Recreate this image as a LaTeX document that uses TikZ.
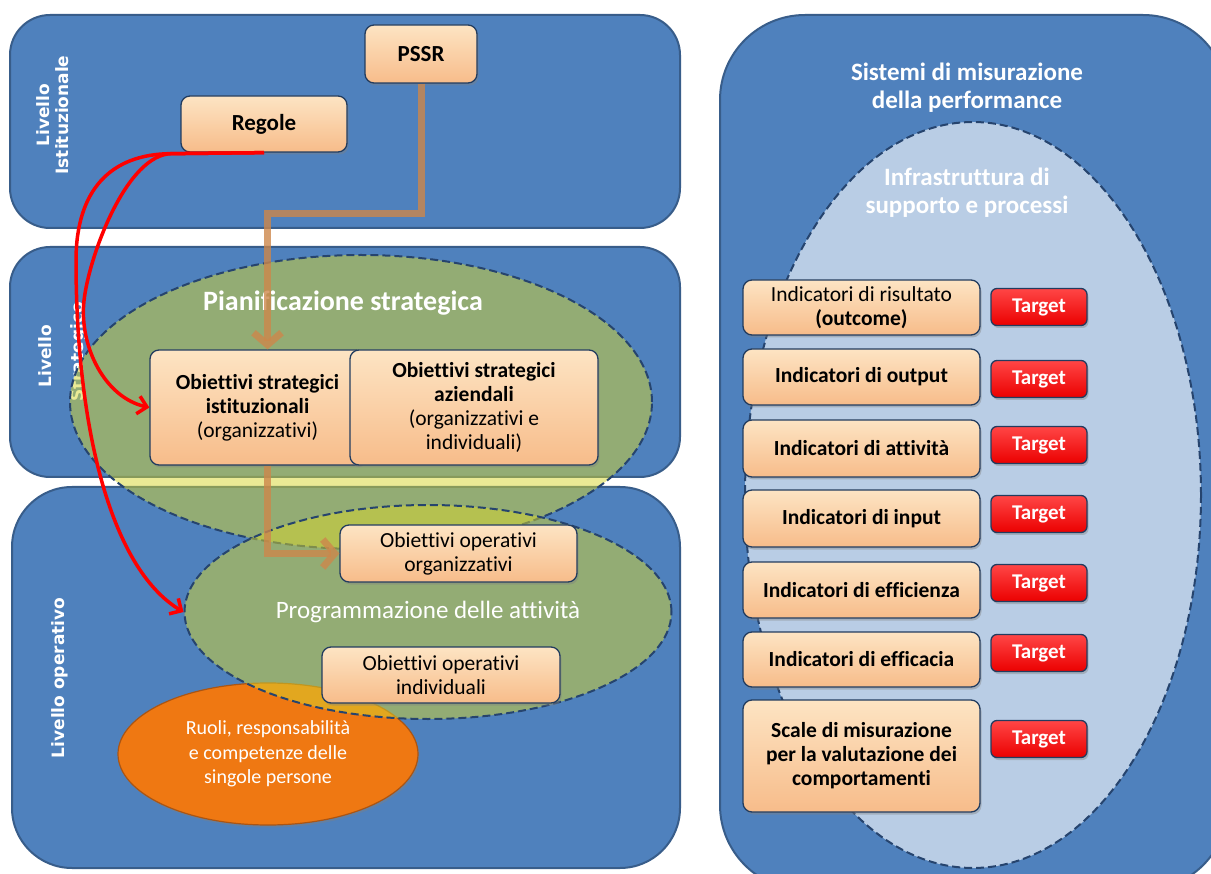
\documentclass[tikz,border=0pt]{standalone}
\usepackage{fontspec}
\setmainfont{Carlito}[Ligatures=NoCommon]
\newfontfamily\labfont{DejaVu Sans}
\usetikzlibrary{arrows.meta,shadows,shapes.geometric}
\definecolor{panelblue}{RGB}{79,129,189}
\definecolor{panelborder}{RGB}{56,93,138}
\definecolor{lightblue}{RGB}{185,205,229}
\definecolor{dashblue}{RGB}{38,68,110}
\definecolor{peachtop}{RGB}{253,228,195}
\definecolor{peachbot}{RGB}{247,188,138}
\definecolor{boxborder}{RGB}{34,60,95}
\definecolor{targettop}{RGB}{255,70,70}
\definecolor{targetred}{RGB}{235,0,0}
\definecolor{orangefill}{RGB}{239,120,18}
\definecolor{orangeborder}{RGB}{170,85,20}
\definecolor{arrowbrown}{RGB}{205,135,75}
\definecolor{yellowfill}{RGB}{215,215,45}
\begin{document}
\begin{tikzpicture}[x=1pt,y=-1pt,
  panel/.style={rectangle,draw=panelborder,line width=2pt,fill=panelblue,inner sep=0pt},
  softshadow/.style={drop shadow={opacity=0.4,shadow xshift=1.5pt,shadow yshift=-2.5pt}},
  peachbox/.style={rectangle,draw=boxborder,line width=1.3pt,rounded corners=9pt,top color=peachtop,bottom color=peachbot,align=center,inner sep=1pt,font=\fontsize{21.5}{24}\selectfont,softshadow},
  targetbox/.style={rectangle,draw=boxborder,line width=1.3pt,rounded corners=6pt,top color=targettop,bottom color=targetred,minimum width=96pt,minimum height=37pt,text=white,font=\bfseries\fontsize{21}{24}\selectfont,softshadow},
  dashell/.style={ellipse,draw=dashblue,line width=2pt,dash pattern=on 8pt off 4pt,fill=yellowfill,fill opacity=0.5,draw opacity=1,inner sep=0pt},
  levlabel/.style={text=white,font=\labfont\bfseries\fontsize{17}{19}\selectfont,align=center,rotate=90},
  whitetitle/.style={text=white,font=\bfseries\fontsize{25}{28}\selectfont,align=center},
  brownarrow/.style={draw=arrowbrown,draw opacity=0.8,line width=7pt,-{Straight Barb[length=12pt,width=28pt]}},
  redarrow/.style={draw=red,line width=3.5pt,-{Straight Barb[length=9pt,width=18pt]}},
]
\useasboundingbox (0,0) rectangle (1211,874);
\fill[white] (0,0) rectangle (1211,874);
\clip (0,0) rectangle (1211,874);

% panels
\node[panel,rounded corners=40pt,minimum width=670pt,minimum height=213pt] (p1) at (345,121.5) {};
\node[panel,rounded corners=40pt,minimum width=670pt,minimum height=230pt] (p2) at (345,362) {};
\node[panel,rounded corners=60pt,minimum width=668pt,minimum height=381pt] (p3) at (346,677.5) {};
\node[panel,rounded corners=85pt,minimum width=508pt,minimum height=875pt] (p4) at (974,452.5) {};

\node[levlabel] (l1) at (53,115) {Livello\\Istituzionale};
\node[levlabel] (l2a) at (45,356) {Livello};
\node[levlabel] (l2b) at (79,352) {Strategico};
\node[levlabel] (l3) at (60,678) {Livello operativo};

% right panel
\node[ellipse,draw=dashblue,line width=2pt,dash pattern=on 8pt off 4pt,fill=lightblue,minimum width=456pt,minimum height=746pt,inner sep=0pt] (infra) at (973,495) {};
\node[whitetitle] (sist) at (967,88) {Sistemi di misurazione\\della performance};
\node[whitetitle] (inftitle) at (967,193) {Infrastruttura di\\supporto e processi};

\node[peachbox,minimum width=237pt,minimum height=55pt] (i1) at (861.5,307.5) {Indicatori di risultato\\\textbf{(outcome)}};
\node[peachbox,minimum width=237pt,minimum height=56pt,font=\bfseries\fontsize{21.5}{24}\selectfont] (i2) at (861.5,377) {Indicatori di output};
\node[peachbox,minimum width=237pt,minimum height=57pt,font=\bfseries\fontsize{21.5}{24}\selectfont] (i3) at (861.5,448.5) {Indicatori di attività};
\node[peachbox,minimum width=237pt,minimum height=57pt,font=\bfseries\fontsize{21.5}{24}\selectfont] (i4) at (861.5,518.5) {Indicatori di input};
\node[peachbox,minimum width=237pt,minimum height=56pt,font=\bfseries\fontsize{21.5}{24}\selectfont] (i5) at (861.5,590) {Indicatori di efficienza};
\node[peachbox,minimum width=237pt,minimum height=55pt,font=\bfseries\fontsize{21.5}{24}\selectfont] (i6) at (861.5,659.5) {Indicatori di efficacia};
\node[peachbox,minimum width=237pt,minimum height=112pt,font=\bfseries\fontsize{21.5}{24}\selectfont] (i7) at (861.5,756) {Scale di misurazione\\per la valutazione dei\\comportamenti};

\node[targetbox] (t1) at (1039,307) {Target};
\node[targetbox] (t2) at (1039,379) {Target};
\node[targetbox] (t3) at (1039,445) {Target};
\node[targetbox] (t4) at (1039,514) {Target};
\node[targetbox] (t5) at (1039,583) {Target};
\node[targetbox] (t6) at (1039,653) {Target};
\node[targetbox] (t7) at (1039,739) {Target};

% left side
\node[ellipse,draw=orangeborder,line width=1.2pt,fill=orangefill,minimum width=300pt,minimum height=142pt,inner sep=0pt,text=white,align=center,font=\fontsize{20}{24.5}\selectfont,softshadow] (ruoli) at (268,754) {Ruoli, responsabilità\\e competenze delle\\singole persone};

\node[dashell,minimum width=582pt,minimum height=294pt] (pian) at (361,402) {};
\node[dashell,minimum width=487pt,minimum height=214pt] (prog) at (428,612) {};
\node[text=white,font=\fontsize{25}{28}\selectfont] (progt) at (428,612) {Programmazione delle attività};
\node[text=white,font=\bfseries\fontsize{28}{32}\selectfont] (piant) at (343,303) {Pianificazione strategica};

\node[peachbox,minimum width=112pt,minimum height=58pt,font=\bfseries\fontsize{23}{26}\selectfont] (pssr) at (421,54) {PSSR};
\node[peachbox,minimum width=166pt,minimum height=56pt,font=\bfseries\fontsize{23}{26}\selectfont] (regole) at (264,124) {Regole};

\node[peachbox,minimum width=215pt,minimum height=115pt] (box1) at (257.5,407.5) {\textbf{Obiettivi strategici}\\\textbf{istituzionali}\\(organizzativi)};
\node[peachbox,minimum width=248pt,minimum height=115pt] (box2) at (474,407.5) {\textbf{Obiettivi strategici}\\\textbf{aziendali}\\(organizzativi e\\individuali)};
\node[peachbox,minimum width=237pt,minimum height=57pt] (oorg) at (458.5,553.5) {Obiettivi operativi\\organizzativi};
\node[peachbox,minimum width=238pt,minimum height=56pt] (oind) at (441,675) {Obiettivi operativi\\individuali};

% brown connectors
\draw[brownarrow] (pssr.south) -- ++(0,130) -| ([xshift=10pt]box1.north);
\draw[brownarrow] ([xshift=10pt]box1.south) |- (oorg.west);

% red connectors
\draw[redarrow] (regole.south) -- ++(-92,1) .. controls +(-45,0) and +(5,-45) .. ++(-88,147) .. controls +(-5,45) and +(-45,-10) .. (box1.west);
\draw[redarrow] (regole.south) -- ++(-92,1) .. controls +(-62,0) and +(0,-70) .. ++(-96,107) .. controls +(0,160) and +(-75,-45) .. (prog.west);
\end{tikzpicture}
\end{document}
